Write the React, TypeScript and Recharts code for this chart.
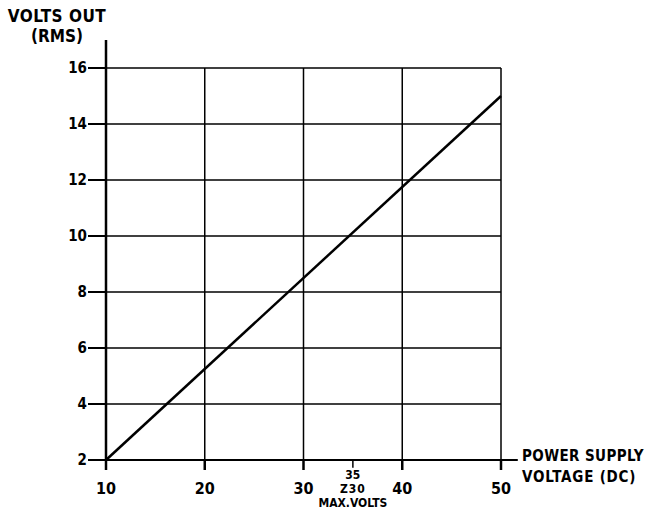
import { LineChart, Line, XAxis, YAxis, CartesianGrid, ReferenceLine } from 'recharts';

const supplyVolts = [10, 50];
const rmsVolts = [2, 15];
const xTicks = [10, 20, 30, 40, 50];
const yTicks = [2, 4, 6, 8, 10, 12, 14, 16];
const maxVoltsMark = 35;
const maxVoltsLines = ['35', 'Z30', 'MAX.VOLTS'];

const data = supplyVolts.map((v, i) => ({ supply: v, out: rmsVolts[i] }));

const FONT = '"Liberation Sans Narrow", "DejaVu Sans Condensed", "Liberation Sans", sans-serif';

function XTick(props: any) {
  const { x, y, payload } = props;
  return (
    <g>
      <line x1={x} y1={y} x2={x} y2={y + 10} stroke="#000" strokeWidth={2.5} />
      <text x={x} y={y + 34} textAnchor="middle" fontFamily={FONT} fontWeight="bold" fontSize={16} fill="#000">
        {payload.value}
      </text>
    </g>
  );
}

function YTick(props: any) {
  const { x, y, payload } = props;
  return (
    <g>
      <line x1={x - 18} y1={y} x2={x} y2={y} stroke="#000" strokeWidth={2} />
      <text x={x - 19} y={y + 5} textAnchor="end" fontFamily={FONT} fontWeight="bold" fontSize={15} fill="#000">
        {payload.value}
      </text>
    </g>
  );
}

function MaxVoltsLabel(props: any) {
  const vb = props.viewBox || {};
  const x = vb.x;
  const y = vb.y;
  return (
    <g fontFamily={FONT} fontWeight="bold" fill="#000" textAnchor="middle">
      <text x={x} y={y + 19} fontSize={12}>{maxVoltsLines[0]}</text>
      <text x={x} y={y + 33} fontSize={12} letterSpacing={1}>{maxVoltsLines[1]}</text>
      <text x={x} y={y + 47} fontSize={12}>{maxVoltsLines[2]}</text>
    </g>
  );
}

export default function App() {
  return (
    <div style={{ position: 'absolute', left: 0, top: 0, width: 653, height: 510, background: '#fff' }}>
      <svg width={653} height={510} style={{ position: 'absolute', left: 0, top: 0 }}>
        <g fontFamily={FONT} fontWeight="bold" fill="#000">
          <text x={57} y={22} fontSize={17} textAnchor="middle" letterSpacing={0.5}>VOLTS OUT</text>
          <text x={57} y={42} fontSize={17} textAnchor="middle">(RMS)</text>
          <text x={522} y={461} fontSize={15} letterSpacing={0.4}>POWER SUPPLY</text>
          <text x={522} y={482} fontSize={15} letterSpacing={0.8}>VOLTAGE  (DC)</text>
        </g>
      </svg>
      <div style={{ position: 'absolute', left: 0, top: 0 }}>
        <LineChart width={653} height={510} data={data} margin={{ top: 68, right: 152, bottom: 20, left: 46 }}>
          <CartesianGrid stroke="#000" strokeWidth={1.5} />
          <XAxis
            dataKey="supply"
            type="number"
            domain={[10, 50]}
            ticks={xTicks}
            height={30}
            axisLine={false}
            tickLine={false}
            tickSize={0}
            tickMargin={0}
            tick={<XTick />}
            interval={0}
          />
          <YAxis
            type="number"
            domain={[2, 16]}
            ticks={yTicks}
            width={60}
            axisLine={false}
            tickLine={false}
            tickSize={0}
            tickMargin={0}
            tick={<YTick />}
            interval={0}
          />
          <ReferenceLine segment={[{ x: 10, y: 2 }, { x: 10, y: 17 }]} stroke="#000" strokeWidth={2.5} ifOverflow="visible" />
          <ReferenceLine segment={[{ x: 10, y: 2 }, { x: 51.7, y: 2 }]} stroke="#000" strokeWidth={2} ifOverflow="visible" />
          <ReferenceLine
            segment={[{ x: maxVoltsMark, y: 2 }, { x: maxVoltsMark, y: 1.72 }]}
            stroke="#000"
            strokeWidth={1.5}
            ifOverflow="visible"
            label={<MaxVoltsLabel />}
          />
          <Line
            type="linear"
            dataKey="out"
            stroke="#000"
            strokeWidth={2.5}
            dot={false}
            activeDot={false}
            isAnimationActive={false}
          />
        </LineChart>
      </div>
    </div>
  );
}
